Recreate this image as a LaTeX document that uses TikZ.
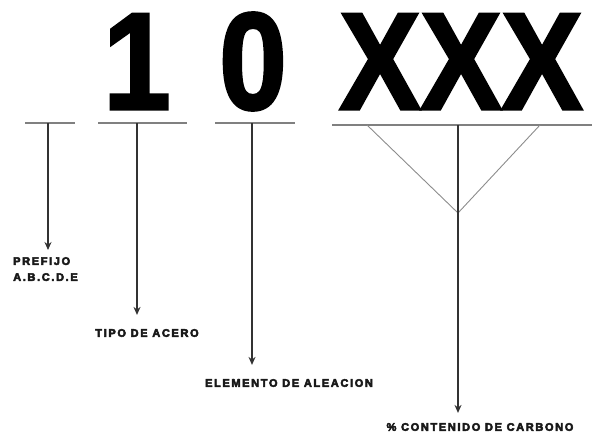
\documentclass[tikz,border=0pt]{standalone}
\usepackage{fontspec}
\setmainfont{Liberation Sans}
\usetikzlibrary{arrows.meta}
\newcommand{\heavy}[2]{\special{pdf:literal direct 2 Tr #1 w}#2\special{pdf:literal direct 0 Tr}}
\tikzstyle{digit}=[font=\fontsize{138}{138}\selectfont\bfseries, inner sep=0pt, anchor=base, xscale=0.88]
\tikzstyle{tag}=[font=\fontsize{11}{16}\selectfont\bfseries\addfontfeatures{LetterSpace=15}, inner sep=0pt, text=black!90]
\tikzstyle{under}=[draw=black!50, line width=1.3pt]
\tikzstyle{arrow}=[->, draw=black!80, line width=1.6pt]

\begin{document}
\begin{tikzpicture}[x=1pt, y=-1pt, >={Stealth[length=8pt, width=7pt]}]
    \useasboundingbox (0,0) rectangle (592,440);
    % the code
    \node[digit] at (137,109) (one) {\heavy{3}{1}};
    \node[digit] at (253,109) (zero) {\heavy{3}{0}};
    \node[digit] at (461,109) (xxx) {\heavy{3}{XXX}};
    % underlines
    \draw[under] (25,123) -- (75,123);
    \draw[under] (98,123) -- (187,123);
    \draw[under] (215,123) -- (295,123);
    \draw[under] (332,125) -- (592,125);
    \coordinate (p1) at (48,123);
    \coordinate (p2) at (137,123);
    \coordinate (p3) at (252,123);
    \coordinate (p4) at (458,125);
    \coordinate (v) at (458,213);
    \draw[draw=black!45, line width=0.9pt] (367,125) -- (v) -- (540,125);
    % meanings
    \node[tag, anchor=north west, align=left] at (13,257) (prefijo) {\heavy{0.5}{PREFIJO}\\\heavy{0.5}{A.B.C.D.E}};
    \node[tag] at (147,333) (tipo) {\heavy{0.5}{TIPO DE ACERO}};
    \node[tag] at (289,383) (elemento) {\heavy{0.5}{ELEMENTO DE ALEACION}};
    \node[tag] at (480,427) (carbono) {\heavy{0.5}{\% CONTENIDO DE CARBONO}};
    \draw[arrow, shorten >=7pt] (p1) -- (p1 |- prefijo.north);
    \draw[arrow, shorten >=14pt] (p2) -- (p2 |- tipo.north);
    \draw[arrow, shorten >=14pt] (p3) -- (p3 |- elemento.north);
    \draw[arrow, shorten >=10pt] (p4) -- (p4 |- carbono.north);
  \end{tikzpicture}
\end{document}
